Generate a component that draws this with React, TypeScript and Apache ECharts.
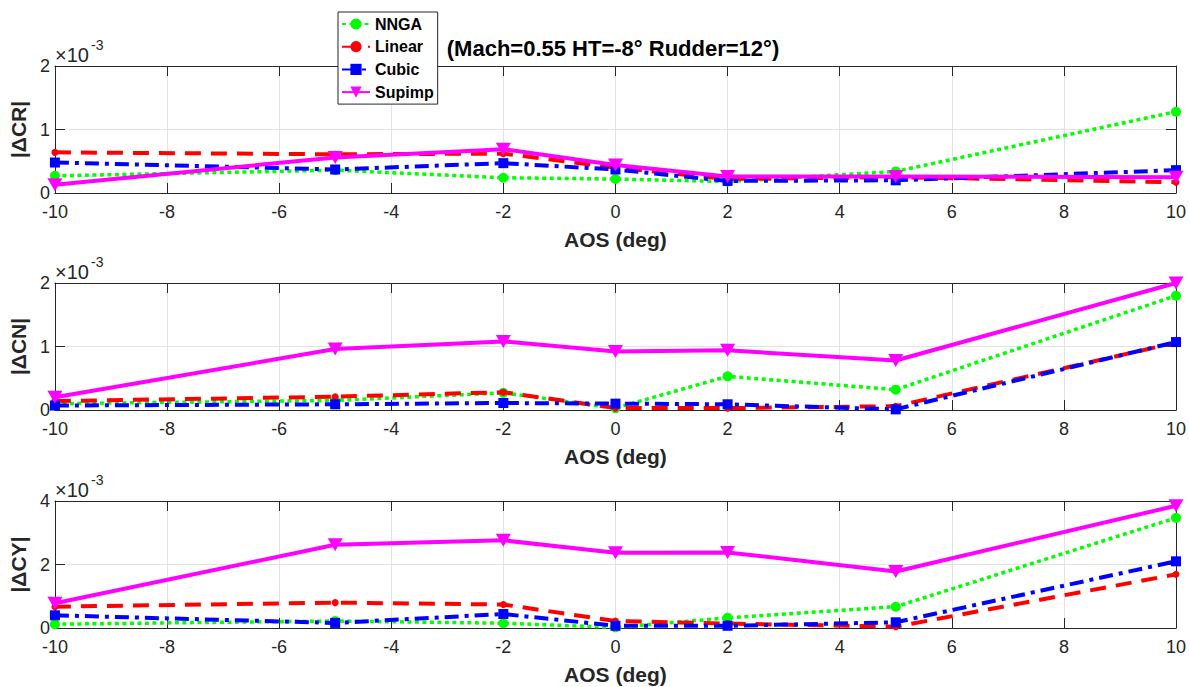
import React, { useEffect, useRef } from "react";
import * as echarts from "echarts";

// AOS (deg)
const aos = [-10, -5, -2, 0, 2, 5, 10];

// values in units of 1e-3
const crNNGA = [0.27, 0.36, 0.24, 0.22, 0.18, 0.34, 1.28];
const crLinear = [0.64, 0.61, 0.62, 0.4, 0.22, 0.25, 0.17];
const crCubic = [0.48, 0.37, 0.47, 0.37, 0.19, 0.2, 0.36];
const crSupimp = [0.13, 0.56, 0.69, 0.44, 0.26, 0.26, 0.25];

const cnNNGA = [0.1, 0.15, 0.27, 0.03, 0.53, 0.32, 1.8];
const cnLinear = [0.14, 0.21, 0.28, 0.03, 0.03, 0.06, 1.06];
const cnCubic = [0.07, 0.09, 0.11, 0.1, 0.09, 0.01, 1.07];
const cnSupimp = [0.2, 0.96, 1.08, 0.92, 0.94, 0.78, 2.0];

const cyNNGA = [0.12, 0.22, 0.15, 0.02, 0.32, 0.67, 3.47];
const cyLinear = [0.67, 0.8, 0.74, 0.22, 0.14, 0.04, 1.69];
const cyCubic = [0.4, 0.16, 0.44, 0.07, 0.07, 0.18, 2.1];
const cySupimp = [0.78, 2.62, 2.76, 2.37, 2.38, 1.78, 3.85];

const panelNames = ["|\u0394CR|", "|\u0394CN|", "|\u0394CY|"];
const panelMax = [2, 2, 4];
const panelInterval = [1, 1, 2];
const panelData = [
  [crNNGA, crLinear, crCubic, crSupimp],
  [cnNNGA, cnLinear, cnCubic, cnSupimp],
  [cyNNGA, cyLinear, cyCubic, cySupimp],
];
const seriesNames = ["NNGA", "Linear", "Cubic", "Supimp"];
const titleText = "(Mach=0.55 HT=-8\u00b0 Rudder=12\u00b0)";

const FONT = "'Liberation Sans', Arial, Helvetica, sans-serif";
const AXIS_COLOR = "#262626";

const seriesStyles: any[] = [
  {
    color: "#00ff00",
    lineStyle: { color: "#00ff00", width: 3.5, type: [4, 3.5], cap: "butt" },
    symbol: "circle",
    symbolSize: 10,
    symbolRotate: 0,
  },
  {
    color: "#ff0000",
    lineStyle: { color: "#ff0000", width: 4, type: [16, 10], cap: "butt" },
    symbol: "circle",
    symbolSize: 7,
    symbolRotate: 0,
  },
  {
    color: "#0000ff",
    lineStyle: { color: "#0000ff", width: 4, type: [14, 6, 4, 6], cap: "butt" },
    symbol: "rect",
    symbolSize: 10,
    symbolRotate: 0,
  },
  {
    color: "#ff00ff",
    lineStyle: { color: "#ff00ff", width: 4, type: "solid" },
    symbol: "triangle",
    symbolSize: [15, 13],
    symbolRotate: 180,
  },
];

const GRID_LEFT = 52;
const GRID_WIDTH = 1124;
const GRID_TOPS = [66, 283, 501];
const GRID_HEIGHT = 127;

export default function App() {
  const ref = useRef<HTMLDivElement>(null);

  useEffect(() => {
    document.body.style.margin = "0";
    if (!ref.current) return;
    const chart = echarts.init(ref.current, undefined, { renderer: "svg" });

    const grids: any[] = [];
    const xAxes: any[] = [];
    const yAxes: any[] = [];
    const series: any[] = [];
    const graphics: any[] = [];

    panelNames.forEach((pname, p) => {
      grids.push({
        left: GRID_LEFT,
        top: GRID_TOPS[p],
        width: GRID_WIDTH,
        height: GRID_HEIGHT,
        show: true,
        backgroundColor: "#ffffff",
        borderWidth: 0,
      });
      // bottom x axis
      xAxes.push({
        type: "value",
        gridIndex: p,
        min: -10,
        max: 10,
        interval: 2,
        position: "bottom",
        name: "AOS (deg)",
        nameLocation: "middle",
        nameGap: 36,
        nameTextStyle: { fontFamily: FONT, fontSize: 21, fontWeight: "bold", color: AXIS_COLOR },
        axisLine: { show: true, onZero: false, lineStyle: { color: AXIS_COLOR, width: 1 } },
        axisTick: { show: true, inside: true, length: 10, lineStyle: { color: AXIS_COLOR } },
        axisLabel: { fontFamily: FONT, fontSize: 18, color: AXIS_COLOR, margin: 10 },
        splitLine: { show: true, lineStyle: { color: "#e3e3e3", width: 1 } },
      });
      // top x axis (ticks only)
      xAxes.push({
        type: "value",
        gridIndex: p,
        min: -10,
        max: 10,
        interval: 2,
        position: "top",
        axisLine: { show: true, onZero: false, lineStyle: { color: AXIS_COLOR, width: 1 } },
        axisTick: { show: true, inside: true, length: 10, lineStyle: { color: AXIS_COLOR } },
        axisLabel: { show: false },
        splitLine: { show: false },
      });
      yAxes.push({
        type: "value",
        gridIndex: p,
        min: 0,
        max: panelMax[p],
        interval: panelInterval[p],
        position: "left",
        name: pname,
        nameLocation: "middle",
        nameGap: 19,
        nameRotate: 90,
        nameTextStyle: { fontFamily: FONT, fontSize: 21, fontWeight: "bold", color: AXIS_COLOR },
        axisLine: { show: true, onZero: false, lineStyle: { color: AXIS_COLOR, width: 1 } },
        axisTick: { show: true, inside: true, length: 10, lineStyle: { color: AXIS_COLOR } },
        axisLabel: { fontFamily: FONT, fontSize: 18, color: AXIS_COLOR, margin: 5 },
        splitLine: { show: true, lineStyle: { color: "#e3e3e3", width: 1 } },
      });
      yAxes.push({
        type: "value",
        gridIndex: p,
        min: 0,
        max: panelMax[p],
        interval: panelInterval[p],
        position: "right",
        axisLine: { show: true, onZero: false, lineStyle: { color: AXIS_COLOR, width: 1 } },
        axisTick: { show: true, inside: true, length: 10, lineStyle: { color: AXIS_COLOR } },
        axisLabel: { show: false },
        splitLine: { show: false },
      });

      panelData[p].forEach((vals, s) => {
        const st = seriesStyles[s];
        series.push({
          type: "line",
          name: seriesNames[s],
          xAxisIndex: p * 2,
          yAxisIndex: p * 2,
          data: aos.map((x, i) => [x, vals[i]]),
          symbol: st.symbol,
          symbolSize: st.symbolSize,
          symbolRotate: st.symbolRotate,
          showAllSymbol: true,
          lineStyle: st.lineStyle,
          itemStyle: { color: st.color },
          z: 3 + s,
          clip: false,
        });
      });

      // x10^-3 multiplier
      graphics.push({
        type: "text",
        left: GRID_LEFT + 3,
        top: GRID_TOPS[p] - 21,
        style: { text: "\u00d710", fontFamily: FONT, fontSize: 20, fill: AXIS_COLOR },
      });
      graphics.push({
        type: "text",
        left: GRID_LEFT + 39,
        top: GRID_TOPS[p] - 28,
        style: { text: "-3", fontFamily: FONT, fontSize: 14, fill: AXIS_COLOR },
      });
    });

    graphics.push({
      type: "text",
      x: 613,
      y: 48,
      style: {
        text: titleText,
        fontFamily: FONT,
        fontSize: 22,
        fontWeight: "bold",
        fill: "#000000",
        align: "center",
        verticalAlign: "middle",
      },
    });

    chart.setOption({
      animation: false,
      backgroundColor: "#ffffff",
      grid: grids,
      xAxis: xAxes,
      yAxis: yAxes,
      series,
      graphic: graphics,
      legend: {
        data: seriesNames,
        orient: "vertical",
        left: 338,
        top: 12,
        itemWidth: 28,
        itemHeight: 14,
        itemGap: 6.7,
        padding: [4, 4, 4, 3],
        backgroundColor: "#ffffff",
        borderColor: AXIS_COLOR,
        borderWidth: 1,
        borderRadius: 0,
        textStyle: { fontFamily: FONT, fontSize: 16, fontWeight: "bold", color: "#000000" },
        z: 10,
      },
    });

    return () => chart.dispose();
  }, []);

  return <div ref={ref} style={{ width: 1189, height: 687 }} />;
}
